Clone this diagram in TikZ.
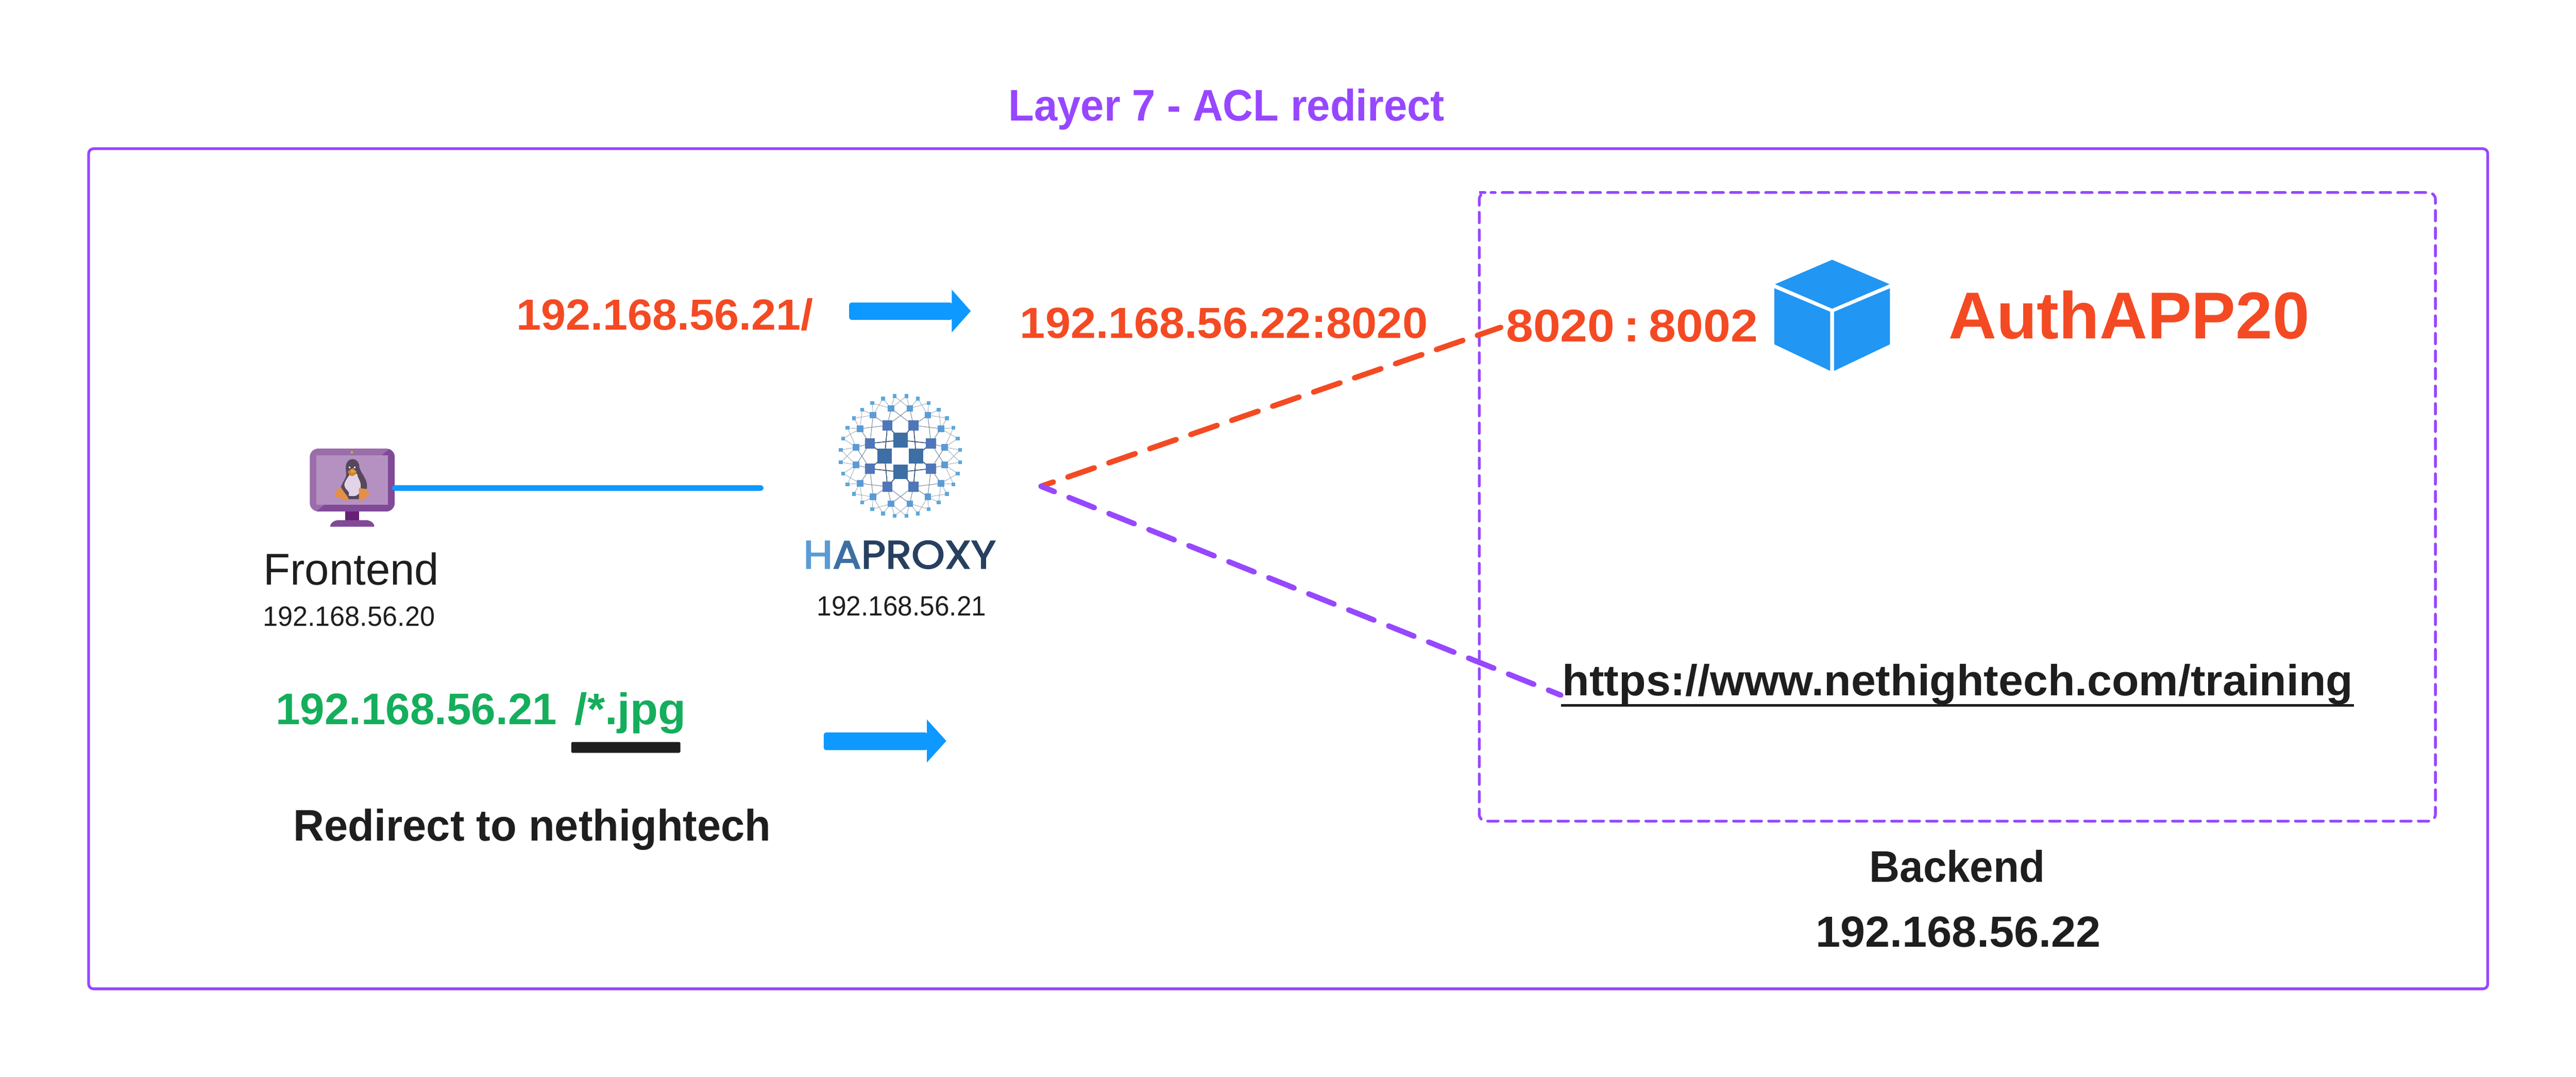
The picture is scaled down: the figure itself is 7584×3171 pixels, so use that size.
\documentclass[tikz,border=0pt]{standalone}
\usepackage{fontspec}
\setmainfont{Liberation Sans}
\newfontfamily\logofont[FakeBold=2.5]{Poppins}
\usetikzlibrary{arrows.meta}
\definecolor{vio}{HTML}{9747FF}
\definecolor{org}{HTML}{F44A23}
\definecolor{blu}{HTML}{0D99FF}
\definecolor{grn}{HTML}{14AE5C}
\definecolor{ink}{HTML}{1E1E1E}
\definecolor{cube}{HTML}{2196F3}
\definecolor{haa}{HTML}{3D6FA5}
\definecolor{hab}{HTML}{4F76B8}
\definecolor{hac}{HTML}{5B9BD5}
\definecolor{had}{HTML}{5AA9DB}
\definecolor{hal}{HTML}{27405F}
\newcommand{\tfs}[3]{\scalebox{#2}[1]{\fontsize{\dimexpr#1pt*28453/100000\relax}{\dimexpr#1pt*34/100\relax}\selectfont #3}}
\tikzset{
  lbl/.style={inner sep=0pt,outer sep=0pt,anchor=base west},
  flowarrow/.style={fill=blu,rounded corners=2},
  dashconn/.style={line width=0.16cm,line cap=round},
}
\begin{document}
\begin{tikzpicture}[x=0.01cm,y=-0.01cm]
\useasboundingbox (0,0) rectangle (7584,3171);
\fill[white] (0,0) rectangle (7584,3171);
% frames
\node[lbl,text=vio] (title) at (2969,356) {\tfs{130}{0.95}{\bfseries Layer 7 - ACL redirect}};
\draw[vio,line width=0.08cm,rounded corners=0.14cm] (261,438) rectangle (7324,2912);
\draw[vio,line width=0.08cm,line cap=round,rounded corners=0.2cm,dash pattern=on 0.31cm off 0.2066cm,dash phase=0.24cm] (4375,567) -- (7170,567) -- (7170,2418) -- (4355,2418) -- (4355,567) -- cycle;
% top flow
\node[lbl,text=org] (req) at (1520,972) {\tfs{128}{1.023}{\bfseries 192.168.56.21/}};
\node[lbl,text=org] (dst) at (3003,996) {\tfs{128}{1.047}{\bfseries 192.168.56.22:8020}};
\node[lbl,text=org] (ports) at (4434,1006) {\tfs{135}{1.067}{\bfseries 8020\hspace{7pt}:\hspace{7pt}8002}};
\node[lbl,text=org] (app) at (5737,998) {\tfs{195}{1}{\bfseries AuthAPP20}};
% arrows
\fill[flowarrow] (2500,891) rectangle (2804,942);
\fill[blu] (2802,853) -- (2858,916) -- (2802,979) -- cycle;
\fill[flowarrow] (2425,2157) rectangle (2731,2209);
\fill[blu] (2729,2119) -- (2786,2182) -- (2729,2245) -- cycle;
% cube
\fill[cube] (5394,765) -- (5563,837) -- (5394,909) -- (5226,837) -- cycle;
\fill[cube] (5224,849) -- (5388,918) -- (5388,1092) -- (5224,1014) -- cycle;
\fill[cube] (5564,849) -- (5400,918) -- (5400,1092) -- (5564,1014) -- cycle;
% monitor
\fill[rounded corners=0.25cm,fill={rgb,255:red,155;green,109;blue,170}] (912,1321) rectangle (1162,1506);
\begin{scope}
\clip[rounded corners=0.25cm] (912,1321) rectangle (1162,1506);
\fill[fill={rgb,255:red,128;green,74;blue,152}] (1147,1321) -- (1162,1321) -- (1162,1506) -- (932,1506) -- (1142,1341) -- (1124,1341) -- cycle;
\fill[fill={rgb,255:red,128;green,74;blue,152}] (932,1506) -- (955,1486) -- (1142,1486) -- (1162,1506) -- cycle;
\end{scope}
\fill[fill={rgb,255:red,180;green,145;blue,193}] (932,1341) rectangle (1142,1486);
\fill[fill={rgb,255:red,180;green,200;blue,30}] (1036,1332) circle (3.5);
\fill[fill={rgb,255:red,103;green,32;blue,118}] (1017,1506) rectangle (1057,1532);
\fill[fill={rgb,255:red,128;green,74;blue,152}] (972,1551) .. controls (972,1540) and (985,1532) .. (995,1532) -- (1079,1532) .. controls (1090,1532) and (1102,1540) .. (1102,1551) -- cycle;
% penguin
\fill[fill={rgb,255:red,86;green,72;blue,92}] (1038,1352) .. controls (1025,1352) and (1018,1364) .. (1018,1376) .. controls (1018,1390) and (1021,1395) .. (1018,1405) .. controls (1012,1418) and (1005,1428) .. (1002,1440) .. controls (1005,1455) and (1015,1470) .. (1026,1468) -- (1026,1470) -- (1058,1470) -- (1063,1445) .. controls (1080,1447) and (1082,1440) .. (1080,1425) .. controls (1078,1408) and (1062,1392) .. (1058,1376) .. controls (1058,1364) and (1051,1352) .. (1038,1352) -- cycle;
\fill[fill={rgb,255:red,225;green,212;blue,230}] (1032,1394) .. controls (1025,1405) and (1012,1420) .. (1014,1430) .. controls (1016,1440) and (1025,1445) .. (1027,1450) .. controls (1030,1458) and (1022,1462) .. (1030,1460) .. controls (1048,1464) and (1062,1458) .. (1062,1430) .. controls (1062,1415) and (1052,1408) .. (1052,1396) -- cycle;
\fill[fill={rgb,255:red,212;green,130;blue,50}] (1024,1388) -- (1040,1378) -- (1050,1390) .. controls (1046,1400) and (1040,1402) .. (1036,1402) .. controls (1030,1402) and (1026,1395) .. (1024,1388) -- cycle;
\fill[fill={rgb,255:red,222;green,170;blue,50}] (1033,1381) -- (1049,1389) -- (1034,1393) -- cycle;
\fill[white] (1027,1374) rectangle (1032,1379);
\fill[white] (1042,1374) rectangle (1047,1379);
\fill[fill={rgb,255:red,228;green,144;blue,72}] (990,1445) -- (1004,1435) .. controls (1012,1450) and (1025,1462) .. (1026,1470) .. controls (1026,1476) and (1022,1475) .. (1018,1473) -- (990,1464) -- (988,1455) -- cycle;
\fill[fill={rgb,255:red,228;green,144;blue,72}] (1057,1437) -- (1078,1440) -- (1082,1450) -- (1090,1455) -- (1070,1470) .. controls (1065,1476) and (1060,1475) .. (1056,1472) .. controls (1058,1460) and (1056,1445) .. (1057,1437) -- cycle;
% HAProxy logo
\begin{scope}[shift={(2651,1343)},x=0.0051cm,y=-0.0051cm]
\foreach \sx/\sy in {1/1,-1/1,1/-1,-1/-1}{
 \begin{scope}[xscale=\sx,yscale=\sy]
 \draw[hal!90,line width=0.025cm] (0,92)--(176,73) (91,0)--(75,177);
 \draw[hal!90,line width=0.025cm] (0,92)--(75,177) (91,0)--(176,73);
 \draw[hal!65,line width=0.015cm] (75,177)--(54,275) (75,177)--(-54,275) (75,177)--(158,236) (75,177)--(234,158) (176,73)--(158,236) (176,73)--(234,158) (176,73)--(256,51) (176,73)--(256,-51);
 \draw[hal!50,line width=0.012cm] (54,275)--(34,346) (54,275)--(-34,346) (54,275)--(101,332) (54,275)--(163,306)
   (158,236)--(101,332) (158,236)--(163,306) (158,236)--(221,268) (158,236)--(268,219)
   (234,158)--(221,268) (234,158)--(268,219) (234,158)--(306,163) (234,158)--(331,101)
   (256,51)--(306,163) (256,51)--(331,101) (256,51)--(344,35) (256,51)--(344,-35);
 \end{scope}}
\foreach \sx/\sy in {1/1,-1/1,1/-1,-1/-1}{
 \begin{scope}[xscale=\sx,yscale=\sy]
 \foreach \a/\b in {34/346,101/332,163/306,221/268,268/219,306/163,331/101,344/35}
   \fill[had] (\a-11,\b-11) rectangle (\a+11,\b+11);
 \foreach \a/\b in {54/275,158/236,234/158,256/51}
   \fill[hac] (\a-19,\b-19) rectangle (\a+19,\b+19);
 \foreach \a/\b in {75/177,176/73}
   \fill[hab] (\a-29,\b-29) rectangle (\a+29,\b+29);
 \foreach \a/\b in {0/92,91/0}
   \fill[haa] (\a-42,\b-42) rectangle (\a+42,\b+42);
 \end{scope}}
\end{scope}
\node[lbl] (logo) at (2365,1674) {\scalebox{1.075}[1]{\logofont\fontsize{33pt}{40pt}\selectfont\textcolor{hac}{H}\textcolor{haa}{A}\textcolor{hal}{PROXY}}};
\node[lbl,text=ink] (haip) at (2405,1814) {\tfs{82}{0.95}{192.168.56.21}};
% frontend
\node[lbl,text=ink] (fe) at (776,1723) {\tfs{131}{0.985}{Frontend}};
\node[lbl,text=ink] (feip) at (774,1843) {\tfs{82}{0.965}{192.168.56.20}};
\coordinate (linea) at (1162,1437);
\coordinate (lineb) at (2240,1437);
\draw[blu,line width=0.16cm,line cap=round] (linea) -- (lineb);
% lower flow
\node[lbl,text=grn] (greq) at (812,2134) {\tfs{130}{0.995}{\bfseries 192.168.56.21}};
\node[lbl,text=grn] (gjpg) at (1692,2134) {\tfs{130}{1.03}{\bfseries /*.jpg}};
\fill[ink,rounded corners=0.03cm] (1682,2185) rectangle (2003,2217);
\node[lbl,text=ink] (redir) at (864,2476) {\tfs{130}{0.968}{\bfseries Redirect to nethightech}};
% URL
\node[lbl,text=ink] (url) at (4600,2048) {\tfs{128}{1.018}{\bfseries https://www.nethightech.com/training}};
\fill[ink] (4596,2073) rectangle (6930,2081);
\node[lbl,text=ink] (bk) at (5504,2598) {\tfs{130}{0.952}{\bfseries Backend}};
\node[lbl,text=ink] (bkip) at (5346,2789) {\tfs{128}{1.024}{\bfseries 192.168.56.22}};
% dashed connectors
\coordinate (fork) at (3065,1432);
\coordinate (autha) at (4418,964);
\coordinate (urlend) at (4595,2047);
\draw[org,dashconn,dash pattern=on 0.82cm off 0.455cm,dash phase=0.44cm] (fork) -- (autha);
\draw[vio,dashconn,dash pattern=on 0.80cm off 0.467cm,dash phase=0.38cm] (fork) -- (urlend);
\end{tikzpicture}
\end{document}
